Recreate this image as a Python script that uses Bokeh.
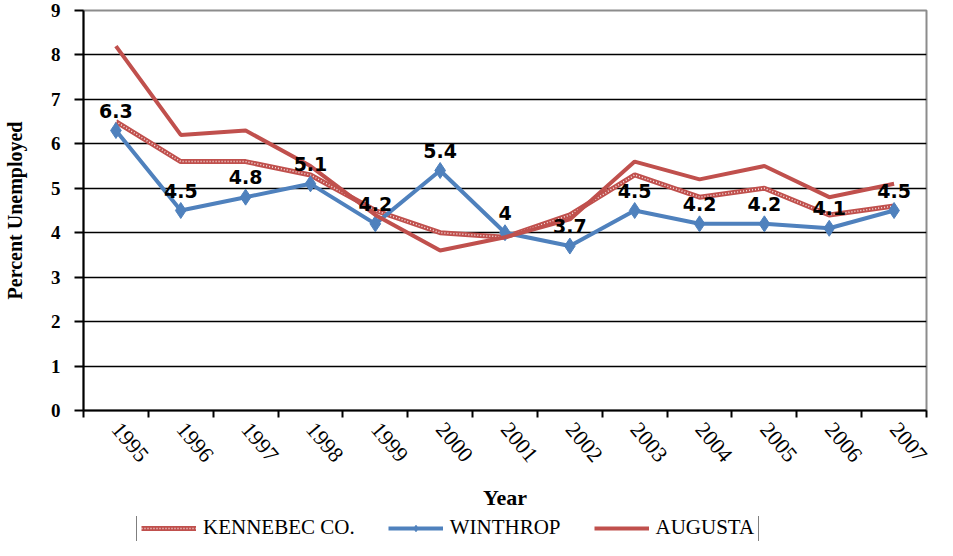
from bokeh.plotting import figure
from bokeh.layouts import column
from bokeh.models import (ColumnDataSource, FixedTicker, Legend, LegendItem)
from bokeh.core.properties import value
from bokeh.embed import file_html
from bokeh.resources import INLINE

years = ["1995", "1996", "1997", "1998", "1999", "2000", "2001",
         "2002", "2003", "2004", "2005", "2006", "2007"]
kennebec = [6.5, 5.6, 5.6, 5.3, 4.5, 4.0, 3.9, 4.4, 5.3, 4.8, 5.0, 4.4, 4.6]
winthrop = [6.3, 4.5, 4.8, 5.1, 4.2, 5.4, 4.0, 3.7, 4.5, 4.2, 4.2, 4.1, 4.5]
augusta = [8.2, 6.2, 6.3, 5.5, 4.4, 3.6, 3.9, 4.3, 5.6, 5.2, 5.5, 4.8, 5.1]
y_ticks = [0, 1, 2, 3, 4, 5, 6, 7, 8, 9]
series_names = ["KENNEBEC CO.", "WINTHROP", "AUGUSTA"]

RED = "#c0504d"
BLUE = "#4f81bd"

xs = [i + 0.5 for i in range(len(years))]
src = ColumnDataSource(dict(
    x=xs, kennebec=kennebec, winthrop=winthrop, augusta=augusta,
    lab=[f"{v:g}" for v in winthrop]))

p = figure(frame_width=843, frame_height=400,
           x_range=(0, len(years)), y_range=(0, 9),
           output_backend="svg", toolbar_location=None,
           min_border_left=82, min_border_right=12, min_border_top=10,
           min_border_bottom=102)
p.background_fill_color = "white"
p.border_fill_color = "white"
p.outline_line_color = "#8c8c8c"
p.outline_line_width = 2

# x axis: labels at category centres, ticks at category boundaries
p.xaxis.ticker = FixedTicker(ticks=xs, minor_ticks=list(range(len(years) + 1)))
p.xaxis.major_label_overrides = {x: y for x, y in zip(xs, years)}
p.xaxis.major_tick_out = 0
p.xaxis.major_tick_in = 0
p.xaxis.minor_tick_out = 7
p.xaxis.minor_tick_in = 0
p.xaxis.minor_tick_line_width = 2
p.xaxis.minor_tick_line_color = "black"
p.xaxis.axis_line_width = 2
p.xaxis.axis_line_color = "black"
p.xaxis.major_label_orientation = -0.87
p.xaxis.major_label_text_font = "Liberation Serif"
p.xaxis.major_label_text_font_size = "22px"
p.xaxis.major_label_text_color = "black"
p.xaxis.major_label_standoff = 8
p.xaxis.axis_label = "Year"
p.xaxis.axis_label_text_font = "Liberation Serif"
p.xaxis.axis_label_text_font_style = "bold"
p.xaxis.axis_label_text_font_size = "22px"
p.xaxis.axis_label_text_color = "black"
p.xaxis.axis_label_standoff = 14
p.xgrid.visible = False

p.yaxis.ticker = FixedTicker(ticks=y_ticks)
p.yaxis.major_tick_out = 9
p.yaxis.major_tick_in = 0
p.yaxis.major_tick_line_width = 2
p.yaxis.major_tick_line_color = "black"
p.yaxis.minor_tick_out = 0
p.yaxis.minor_tick_in = 0
p.yaxis.axis_line_width = 2
p.yaxis.axis_line_color = "black"
p.yaxis.major_label_text_font = "Liberation Serif"
p.yaxis.major_label_text_font_style = "bold"
p.yaxis.major_label_text_font_size = "19px"
p.yaxis.major_label_text_color = "black"
p.yaxis.major_label_standoff = 14
p.yaxis.axis_label = "Percent Unemployed"
p.yaxis.axis_label_text_font = "Liberation Serif"
p.yaxis.axis_label_text_font_style = "bold"
p.yaxis.axis_label_text_font_size = "20px"
p.yaxis.axis_label_text_color = "black"
p.yaxis.axis_label_standoff = 22
p.ygrid.grid_line_color = "black"
p.ygrid.grid_line_width = 1.6


def draw_series(fig, source):
    k1 = fig.line("x", "kennebec", source=source, line_color=RED, line_width=5)
    k2 = fig.line("x", "kennebec", source=source, line_color="white",
                  line_width=1.5, line_dash="1 2", line_alpha=0.85)
    w1 = fig.line("x", "winthrop", source=source, line_color=BLUE, line_width=4)
    w2 = fig.scatter("x", "winthrop", source=source, marker="diamond", size=16,
                     fill_color=BLUE, line_color=BLUE)
    a1 = fig.line("x", "augusta", source=source, line_color=RED, line_width=4)
    return [k1, k2], [w1, w2], [a1]


draw_series(p, src)

p.text("x", "winthrop", text="lab", source=src,
       text_font=value("DejaVu Sans"), text_font_style="bold",
       text_font_size="19px", text_align="center",
       text_baseline="alphabetic", y_offset=-20, text_color="black")

# legend strip: a small figure below, same borders so the column stays aligned;
# its ranges keep the (duplicate) series out of view so only the legend shows
lg = figure(width=937, height=28, x_range=(100, 101), y_range=(100, 101),
            output_backend="svg", toolbar_location=None,
            min_border_left=82, min_border_right=12, min_border_top=3,
            min_border_bottom=0)
lg.axis.visible = False
lg.grid.visible = False
lg.outline_line_color = None
rk, rw, ra = draw_series(lg, src)

legend = Legend(items=[LegendItem(label=series_names[0], renderers=rk),
                       LegendItem(label=series_names[1], renderers=rw),
                       LegendItem(label=series_names[2], renderers=ra)],
                orientation="horizontal", location=(53, -4),
                label_text_font="Liberation Serif", label_text_font_size="21px",
                label_text_color="black", label_height=20,
                glyph_width=55, glyph_height=16, label_standoff=7, spacing=33,
                padding=4, margin=0, border_line_color="black",
                border_line_width=1, background_fill_color="white",
                background_fill_alpha=1)
lg.add_layout(legend)

layout = column(p, lg, spacing=0)
open("out.html", "w").write(file_html(layout, INLINE))
